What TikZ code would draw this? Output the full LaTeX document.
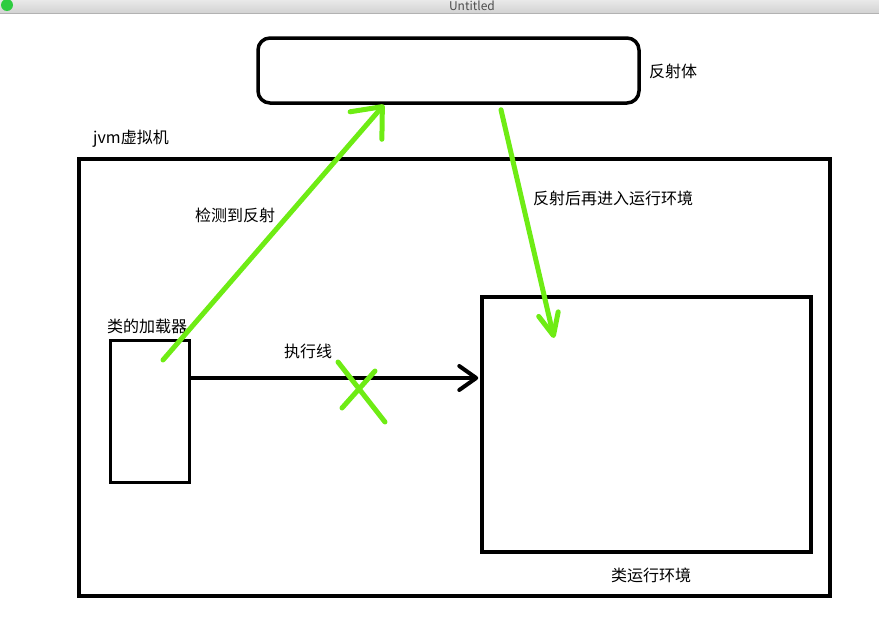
\documentclass[tikz,border=0pt]{standalone}
\usepackage{fontspec}
\setmainfont{Noto Sans CJK SC}
\usetikzlibrary{arrows.meta}
\definecolor{markGreen}{HTML}{6EEC14}
\definecolor{barTop}{HTML}{E9E9E9}
\definecolor{barBottom}{HTML}{D2D2D2}
\definecolor{lampGreen}{HTML}{2ECC40}

\begin{document}
\begin{tikzpicture}[x=1pt,y=-1pt,
  box/.style={draw=black,line width=3.5pt,inner sep=0pt},
  lbl/.style={font=\fontsize{16}{19}\selectfont,inner sep=0pt},
  greenline/.style={draw=markGreen,line width=5pt,line cap=round}]
  \useasboundingbox (0,0) rectangle (879,640);
  % window title bar
  \shade[top color=barTop,bottom color=barBottom] (0,0) rectangle (879,13);
  \draw[black!30,line width=1pt] (0,13.5) -- (879,13.5);
  \fill[lampGreen] (7,5) circle (6pt);
  \node[font=\fontsize{12}{14}\selectfont,text=black!70,inner sep=0pt] (title) at (472,6) {Untitled};

  % boxes
  \node[box,rounded corners=12pt,minimum width=381pt,minimum height=65pt] (refl) at (448.5,70.5) {};
  \node[box,minimum width=751pt,minimum height=437pt] (jvm) at (454.5,377.5) {};
  \node[box,line width=3pt,minimum width=79pt,minimum height=142pt] (loader) at (149.5,411) {};
  \node[box,minimum width=329pt,minimum height=255pt] (runtime) at (646.5,424.5) {};

  % labels
  \node[lbl] (reflLbl) at (673,71) {反射体};
  \node[lbl] (jvmLbl) at (131,139) {jvm虚拟机};
  \node[lbl] (loaderLbl) at (147,326) {类的加载器};
  \node[lbl] (execLbl) at (308,351) {执行线};
  \node[lbl] (detectLbl) at (235,215) {检测到反射};
  \node[lbl] (backLbl) at (613,198) {反射后再进入运行环境};
  \node[lbl] (runtimeLbl) at (651,575) {类运行环境};

  % execution line
  \draw[line width=4pt,-{Straight Barb[length=17pt,width=24pt,round]}]
    ([yshift=33pt]loader.east) -- ([yshift=46.5pt,xshift=-2pt]runtime.west);

  % green marks
  \draw[greenline] (338,362) -- (385,422);
  \draw[greenline] (342,408) -- (375,371);
  \draw[greenline,-{Straight Barb[length=25pt,width=42pt,round]}]
    ([shift={(13.5pt,51pt)}]loader.center) -- ([xshift=-64.5pt]refl.south);
  \draw[greenline,-{Straight Barb[length=22pt,width=20pt,round]}]
    ([shift={(52.5pt,-5pt)}]refl.south) -- ([shift={(-92.5pt,86.5pt)}]runtime.center);
\end{tikzpicture}
\end{document}
